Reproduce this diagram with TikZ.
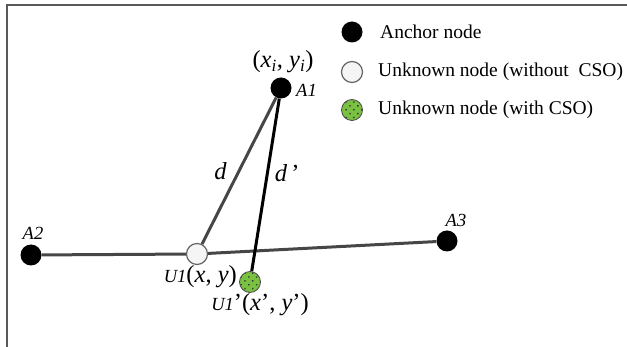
\documentclass[tikz,border=0pt]{standalone}
\usepackage{fontspec}
\setmainfont{Liberation Serif}
\usepackage{tikz}
\usetikzlibrary{patterns.meta}
\definecolor{csogreen}{RGB}{122,193,66}
\definecolor{linkgray}{RGB}{70,70,70}

\begin{document}
\begin{tikzpicture}[x=1pt,y=-1pt,
    anchornode/.style={circle,fill=black,minimum size=21pt,inner sep=0pt},
    unknode/.style={circle,draw=black!60,line width=1.2pt,fill=black!4,minimum size=21pt,inner sep=0pt},
    csonode/.style={circle,draw=black!70,line width=0.8pt,preaction={fill=csogreen},
        pattern={Dots[distance=5.5pt,radius=1pt,angle=45]},pattern color=black!80,minimum size=21pt,inner sep=0pt},
    tag/.style={font=\fontsize{18.5}{20}\selectfont\itshape,inner sep=0pt},
    coord/.style={font=\fontsize{24.5}{26}\selectfont,inner sep=0pt,text=black},
    legend/.style={font=\fontsize{19.5}{22}\selectfont,anchor=west,inner sep=0pt},
    link/.style={linkgray,line width=3pt}]
\useasboundingbox (0,0) rectangle (627,347);
\draw[black!65,line width=1.5pt] (7,347) -- (7,5) -- (627,5);

% nodes
\node[anchornode] (a1) at (281,88) {};
\node[anchornode] (a2) at (31,255) {};
\node[anchornode] (a3) at (447,241) {};
\node[unknode] (u1) at (197,254) {};
\node[csonode] (u1p) at (250,282) {};

\node[tag,anchor=west] (a1lbl) at (296,90) {A1};
\node[tag] (a2lbl) at (33,233) {A2};
\node[tag] (a3lbl) at (456,220) {A3};
\node[coord] (a1pos) at (283,62) {(\textit{x}\textsubscript{\textit{i}}, \textit{y}\textsubscript{\textit{i}})};
\node[coord,anchor=east] (u1lbl) at (237,277) {{\fontsize{18.5}{20}\selectfont\itshape U1}(\textit{x}, \textit{y})};
\node[coord] (u1plbl) at (260,305) {{\fontsize{18.5}{20}\selectfont\itshape U1}'(\textit{x}', \textit{y}')};

% links
\draw[link] (a2) -- (u1);
\draw[link] (u1) -- (a3);
\draw[link] (u1) -- node[coord,left=11pt] {\textit{d}} (a1);
\draw[black,line width=3pt] (a1) -- node[coord,pos=.43,right=6pt] {\textit{d}\,'} (u1p);

% legend
\node[anchornode] (leg1) at (352,32) {};
\node[unknode] (leg2) at (352,72) {};
\node[csonode] (leg3) at (352,110) {};
\node[legend] at (380,32) {Anchor node};
\node[legend] at (378,72) {Unknown node (without\ \ CSO)};
\node[legend] at (378,110) {Unknown node (with CSO)};

\end{tikzpicture}
\end{document}
